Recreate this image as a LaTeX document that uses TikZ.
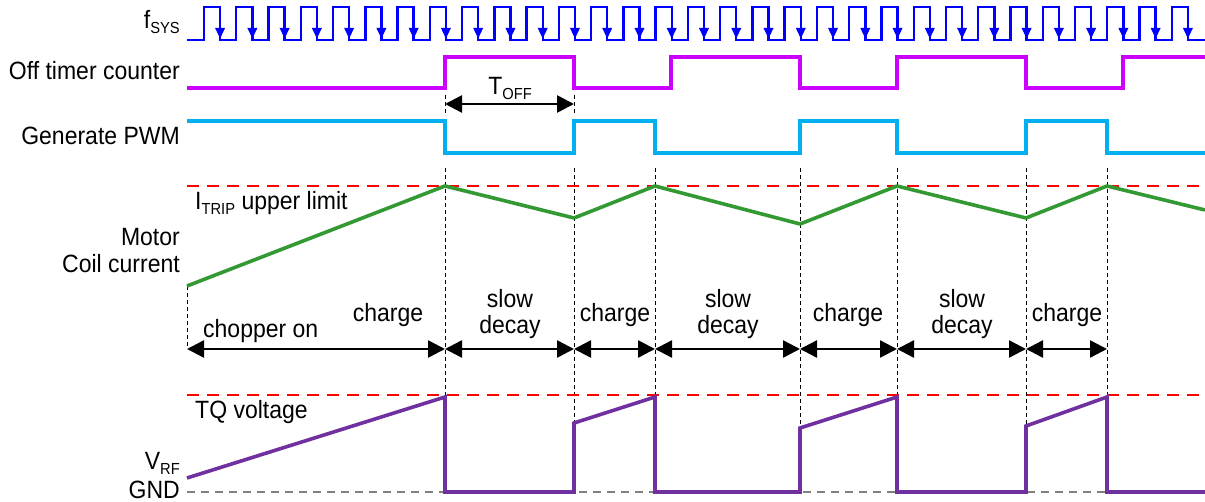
\documentclass[tikz,border=0pt]{standalone}
\usepackage{fontspec}
\setmainfont{Liberation Sans}[FakeStretch=0.92]
\usetikzlibrary{arrows.meta}
\newcommand\lowsub[1]{\raisebox{-5pt}{\fontsize{16}{16}\selectfont #1}}
\definecolor{clkblue}{RGB}{0,0,255}
\definecolor{magsig}{RGB}{204,0,255}
\definecolor{cyansig}{RGB}{0,176,240}
\definecolor{greensig}{RGB}{51,153,51}
\definecolor{purpsig}{RGB}{112,48,160}
\definecolor{redlim}{RGB}{255,0,0}
\definecolor{gndgrey}{RGB}{128,128,128}
\begin{document}
\begin{tikzpicture}[x=1pt,y=-1pt,
  lbl/.style={font=\fontsize{25}{29}\selectfont, inner sep=0pt},
  sig/.style={line width=3.2pt, line join=miter},
  limitline/.style={redlim, line width=2pt, dash pattern=on 12pt off 8pt},
  gndline/.style={gndgrey, line width=1.6pt, dash pattern=on 8pt off 6pt},
  guide/.style={black, line width=0.8pt, dash pattern=on 4pt off 3pt},
  dimarrow/.style={black, line width=2.5pt, {Triangle[length=17pt,width=17pt]}-{Triangle[length=17pt,width=17pt]}}]
\useasboundingbox (0,0) rectangle (1205,502);

% labels
\node[lbl, anchor=base east] (lfsys) at (180,29) {f\lowsub{SYS}};
\node[lbl, anchor=base east] (loff) at (180,80) {Off timer counter};
\node[lbl, anchor=base east] (lpwm) at (180,145) {Generate PWM};
\node[lbl, anchor=base east] (lmotor) at (180,246) {Motor};
\node[lbl, anchor=base east] (lcoil) at (180,273) {Coil current};
\node[lbl, anchor=base east] (lvrf) at (180,469) {V\lowsub{RF}};
\node[lbl, anchor=base east] (lgnd) at (180,498) {GND};
\node[lbl, anchor=base west] (litrip) at (195,210) {I\lowsub{TRIP} upper limit};
\node[lbl, anchor=base west] (ltq) at (195,419) {TQ voltage};

% guide lines
\foreach \x in {445,574,655,800,897,1026,1107}
  \draw[guide] (\x,168) -- (\x,492);
\draw[guide] (187,286) -- (187,349);
\draw[guide] (445,95) -- (445,115);
\draw[guide] (574,95) -- (574,115);

% clock
\draw[clkblue, line width=2.4pt] (187,40)
  \foreach \k in {0,...,30} { -- ({204+32.26*\k},40) -- ++(0,-33) -- ++(16.1,0) -- ++(0,33) }
  -- (1205,40);
\foreach \k in {0,...,30}
  \fill[clkblue] ({220.1+32.26*\k-5},28) -- ++(10,0) -- ++(-5,10.5) -- cycle;

% off timer counter
\draw[sig, magsig] (187,88) -- (445,88) -- (445,57) -- (574,57) -- (574,88) -- (671,88) -- (671,57) -- (800,57) -- (800,88) -- (897,88) -- (897,57) -- (1026,57) -- (1026,88) -- (1123,88) -- (1123,57) -- (1205,57);

% TOFF
\coordinate (toffa) at (445,104);
\coordinate (toffb) at (574,104);
\draw[dimarrow] (toffa) -- (toffb);
\node[lbl, anchor=base] (ltoff) at (510,95) {T\lowsub{OFF}};

% generate PWM
\draw[sig, cyansig] (187,121) -- (445,121) -- (445,153) -- (574,153) -- (574,121) -- (655,121) -- (655,153) -- (800,153) -- (800,121) -- (897,121) -- (897,153) -- (1026,153) -- (1026,121) -- (1107,121) -- (1107,153) -- (1205,153);

% ITRIP
\draw[limitline] (187,186) -- (1205,186);
\draw[greensig, line width=3.6pt, line join=round] (187,286) -- (445,186) -- (574,218) -- (655,186) -- (800,224) -- (897,186) -- (1026,218) -- (1107,186) -- (1205,210);

% phase arrows
\foreach \x [count=\i from 0] in {187,445,574,655,800,897,1026,1107}
  \coordinate (r\i) at (\x,349);
\draw[dimarrow] (r0) -- (r1);
\draw[dimarrow] (r1) -- (r2);
\draw[dimarrow] (r2) -- (r3);
\draw[dimarrow] (r3) -- (r4);
\draw[dimarrow] (r4) -- (r5);
\draw[dimarrow] (r5) -- (r6);
\draw[dimarrow] (r6) -- (r7);
\node[lbl, anchor=base west] (lchop) at (203,338) {chopper on};
\node[lbl, anchor=base] (lch1) at (388,322) {charge};
\node[lbl, anchor=base] (lsd1a) at (510,308) {slow};
\node[lbl, anchor=base] (lsd1b) at (510,334) {decay};
\node[lbl, anchor=base] (lch2) at (615,322) {charge};
\node[lbl, anchor=base] (lsd2a) at (728,308) {slow};
\node[lbl, anchor=base] (lsd2b) at (728,334) {decay};
\node[lbl, anchor=base] (lch3) at (848,322) {charge};
\node[lbl, anchor=base] (lsd3a) at (962,308) {slow};
\node[lbl, anchor=base] (lsd3b) at (962,334) {decay};
\node[lbl, anchor=base] (lch4) at (1067,322) {charge};

% VRF
\draw[limitline] (187,395) -- (1205,395);
\draw[gndline] (187,492) -- (1205,492);
\draw[purpsig, line width=3.6pt, line join=miter] (187,478) -- (445,397) -- (445,492) -- (574,492) -- (574,423) -- (655,397) -- (655,492) -- (800,492) -- (800,428) -- (897,397) -- (897,492) -- (1026,492) -- (1026,426) -- (1107,397) -- (1107,492) -- (1205,492);
\end{tikzpicture}
\end{document}
